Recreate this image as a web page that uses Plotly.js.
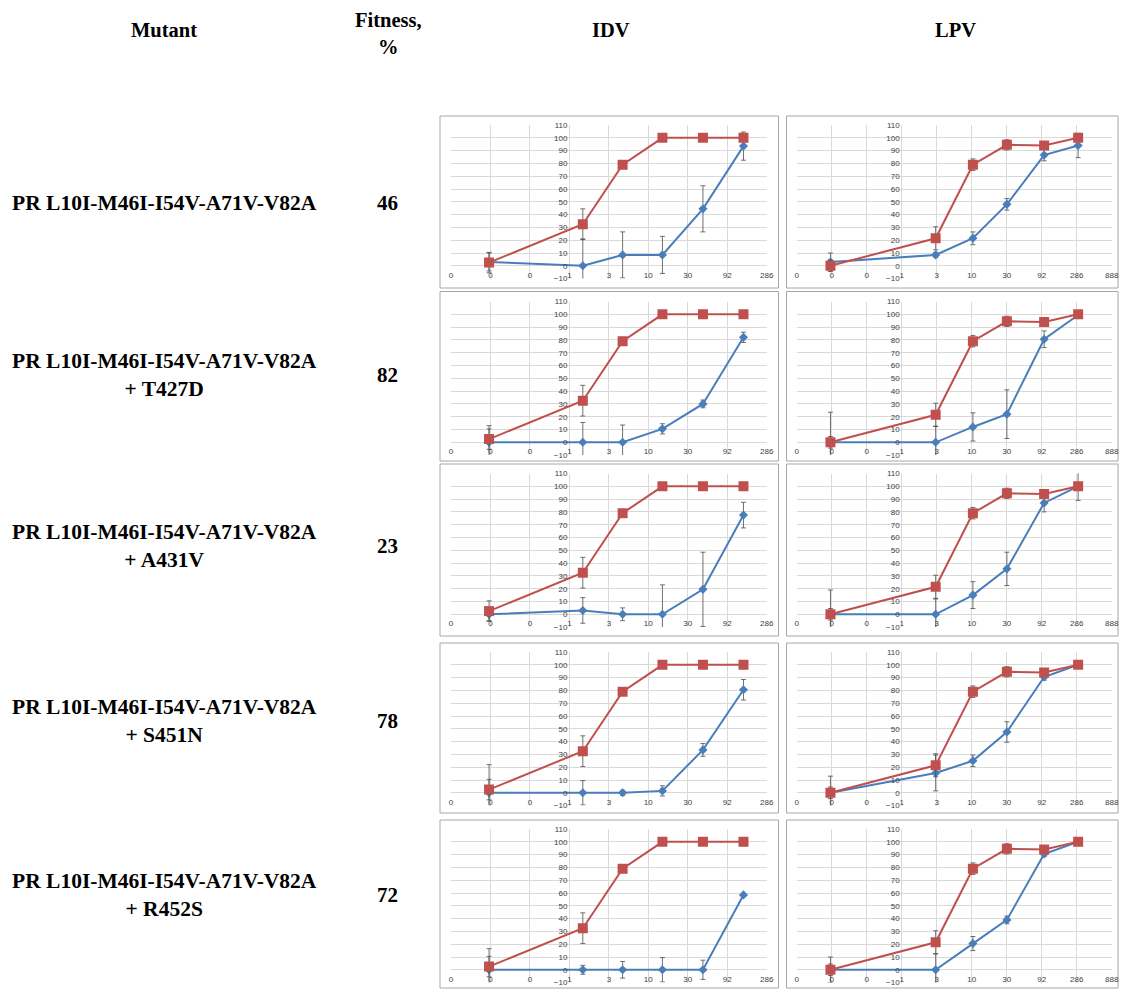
<!DOCTYPE html>
<html>
<head>
<meta charset="utf-8">
<script src="https://cdn.plot.ly/plotly-3.0.1.min.js"></script>
<style>
  html, body { margin: 0; padding: 0; background: #ffffff; }
  #chart { width: 1121px; height: 989px; }
</style>
</head>
<body>
<div id="chart"></div>
<script>
// ---------------- DATA ----------------
const MUTANTS = [
  "PR L10I-M46I-I54V-A71V-V82A",
  "PR L10I-M46I-I54V-A71V-V82A<br>+ T427D",
  "PR L10I-M46I-I54V-A71V-V82A<br>+ A431V",
  "PR L10I-M46I-I54V-A71V-V82A<br>+ S451N",
  "PR L10I-M46I-I54V-A71V-V82A<br>+ R452S"
];
const FITNESS = [46, 82, 23, 78, 72];
const DRUGS = ["IDV", "LPV"];

// drug concentrations (x) for each panel column
const IDV_CONC = [0.1, 1.47, 4.6, 14.4, 46, 147];
const LPV_CONC = [0.1, 3, 10, 30, 100, 300];

// x-axis gridline values and their labels (as printed)
const IDV_TICKVALS = [0.0336, 0.104, 0.323, 1, 3.1, 9.61, 29.8, 92.4, 286];
const IDV_TICKTEXT = ["0", "0", "0", "1", "3", "10", "30", "92", "286"];
const LPV_TICKVALS = [0.0336, 0.104, 0.323, 1, 3.1, 9.61, 29.8, 92.4, 286, 888];
const LPV_TICKTEXT = ["0", "0", "0", "1", "3", "10", "30", "92", "286", "888"];

// reference (red) curves, identical in every row
const REF_IDV = [2.5, 32.5, 79, 100, 100, 100];
const REF_IDV_ERR = [8, 12, 3, 1, 1, 3];
const REF_LPV = [0, 21.5, 79, 94.5, 94, 100];
const REF_LPV_ERR = [4.5, 9, 4.5, 4, 3, 2];

// mutant (blue) curves, one per row
const MUT_IDV = [
  [3, 0, 8.5, 8.5, 44.5, 93.5],
  [0, 0, 0, 10.5, 30, 82],
  [0, 3, 0, 0, 19.5, 77.5],
  [0, 0, 0, 1.5, 33.5, 80.5],
  [0, 0, 0, 0, 0, 58.5]
];
const MUT_IDV_ERR = [
  [7, 21, 18, 14.5, 18, 11],
  [13, 15.5, 13.5, 4, 3, 4],
  [5, 10, 5, 23, 29, 10],
  [22, 9.5, 2, 4, 5, 8],
  [16.5, 3.5, 6.5, 9.5, 7.5, 1]
];
const MUT_LPV = [
  [3, 8.5, 21.5, 48, 86.5, 94],
  [0, 0, 12, 22, 80.5, 99.5],
  [0, 0, 15, 35.5, 87, 100],
  [0, 15.5, 25, 47.5, 90.5, 100],
  [0, 0, 20.5, 39, 90.5, 100]
];
const MUT_LPV_ERR = [
  [7, 2, 5, 4.5, 4.5, 9.5],
  [23.5, 12.5, 11, 19, 6.5, 2],
  [19, 12, 10.5, 13, 7, 11],
  [13, 14, 4.5, 8, 2.5, 1],
  [10, 12.5, 5.5, 3, 2, 1]
];

// ---------------- LAYOUT HELPERS ----------------
const W = 1121, H = 989;
const PX = p => p / W;
const PY = p => 1 - p / H;

const BLUE = "#4A7EBB";
const RED = "#C0504D";
const ERRC = "#4D4D4D";
const GRID = "#D9D9D9";
const TICKFONT = { family: "Liberation Sans, Arial, sans-serif", size: 8, color: "#404040" };
const SERIF = "Liberation Serif, Times New Roman, serif";

const ROW_TOP = [125, 301.5, 473.5, 652, 829];   // pixel of y = 110
const ROW_H = 153.6;                              // pixels for 120 units
const BOX_Y = [[116, 288], [291.5, 461], [464, 636], [643, 813], [820, 988]];
const COLS = [
  { x0: 451, x1: 766.7, yaxisPx: 569.4, box: [440, 778.5], conc: IDV_CONC, tv: IDV_TICKVALS, tt: IDV_TICKTEXT,
    ref: REF_IDV, refErr: REF_IDV_ERR, mut: MUT_IDV, mutErr: MUT_IDV_ERR },
  { x0: 796.7, x1: 1111.7, yaxisPx: 901.7, box: [786.5, 1118], conc: LPV_CONC, tv: LPV_TICKVALS, tt: LPV_TICKTEXT,
    ref: REF_LPV, refErr: REF_LPV_ERR, mut: MUT_LPV, mutErr: MUT_LPV_ERR }
];

const traces = [];
const layout = {
  width: W, height: H,
  margin: { l: 0, r: 0, t: 0, b: 0 },
  paper_bgcolor: "#ffffff",
  plot_bgcolor: "rgba(0,0,0,0)",
  showlegend: false,
  shapes: [],
  annotations: []
};

const bold = s => s.split("<br>").map(t => "<b>" + t + "</b>").join("<br>");

let n = 0;
const LABEL_Y = [203, 375, 546, 721, 895];
for (let r = 0; r < 5; r++) {
  const top = ROW_TOP[r], bot = top + ROW_H;
  COLS.forEach((c) => {
    n++;
    const xa = "xaxis" + (n === 1 ? "" : n), ya = "yaxis" + (n === 1 ? "" : n);
    const xr = "x" + (n === 1 ? "" : n), yr = "y" + (n === 1 ? "" : n);
    layout[xa] = {
      type: "log",
      domain: [PX(c.x0), PX(c.x1)],
      range: [Math.log10(c.tv[0]), Math.log10(c.tv[c.tv.length - 1])],
      tickmode: "array", tickvals: c.tv, ticktext: c.tt,
      anchor: "free", position: PY(bot - 10),
      showgrid: true, gridcolor: GRID, gridwidth: 1,
      showline: false, zeroline: false, ticks: "",
      tickfont: TICKFONT, fixedrange: true
    };
    layout[ya] = {
      domain: [PY(bot), PY(top)],
      range: [-10, 110],
      tickmode: "linear", tick0: -10, dtick: 10,
      anchor: "free", position: PX(c.yaxisPx),
      showgrid: true, gridcolor: GRID, gridwidth: 1,
      showline: false, zeroline: false, ticks: "",
      ticklabelstandoff: 2,
      tickfont: TICKFONT, fixedrange: true
    };
    traces.push({
      type: "scatter", mode: "lines+markers", xaxis: xr, yaxis: yr,
      x: c.conc, y: c.mut[r],
      error_y: { type: "data", array: c.mutErr[r], visible: true, color: ERRC, thickness: 0.8, width: 2.5 },
      line: { color: BLUE, width: 2 },
      marker: { symbol: "diamond", size: 7, color: BLUE }
    });
    traces.push({
      type: "scatter", mode: "lines+markers", xaxis: xr, yaxis: yr,
      x: c.conc, y: c.ref,
      error_y: { type: "data", array: c.refErr, visible: true, color: ERRC, thickness: 0.8, width: 2.5 },
      line: { color: RED, width: 2 },
      marker: { symbol: "square", size: 10, color: RED }
    });
    layout.shapes.push({
      type: "rect", xref: "paper", yref: "paper",
      x0: PX(c.box[0]), x1: PX(c.box[1]), y0: PY(BOX_Y[r][1]), y1: PY(BOX_Y[r][0]),
      line: { color: "#A6A6A6", width: 1 }, fillcolor: "rgba(0,0,0,0)", layer: "below"
    });
  });

  layout.annotations.push({
    xref: "paper", yref: "paper", x: PX(164), y: PY(LABEL_Y[r]), xanchor: "center", yanchor: "middle",
    text: bold(MUTANTS[r]), showarrow: false, align: "center",
    font: { family: SERIF, size: 21.5, color: "#000" }
  });
  layout.annotations.push({
    xref: "paper", yref: "paper", x: PX(387), y: PY(LABEL_Y[r]), xanchor: "center", yanchor: "middle",
    text: bold(String(FITNESS[r])), showarrow: false,
    font: { family: SERIF, size: 21, color: "#000" }
  });
}

const HFONT = { family: SERIF, size: 20.5, color: "#000" };
layout.annotations.push(
  { xref: "paper", yref: "paper", x: PX(164), y: PY(30), xanchor: "center", yanchor: "middle", text: bold("Mutant"), showarrow: false, font: HFONT },
  { xref: "paper", yref: "paper", x: PX(388), y: PY(33), xanchor: "center", yanchor: "middle", text: bold("Fitness,<br>%"), showarrow: false, font: HFONT },
  { xref: "paper", yref: "paper", x: PX(611), y: PY(30), xanchor: "center", yanchor: "middle", text: bold(DRUGS[0]), showarrow: false, font: HFONT },
  { xref: "paper", yref: "paper", x: PX(955), y: PY(30), xanchor: "center", yanchor: "middle", text: bold(DRUGS[1]), showarrow: false, font: HFONT }
);

Plotly.newPlot("chart", traces, layout, { displayModeBar: false, staticPlot: true });
</script>
</body>
</html>
